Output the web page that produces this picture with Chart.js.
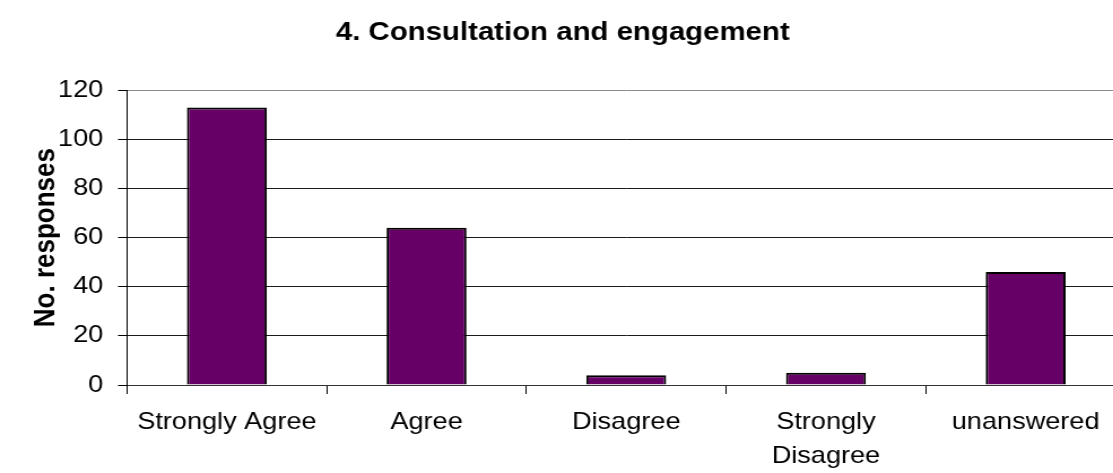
<!DOCTYPE html>
<html>
<head>
<meta charset="utf-8">
<script src="https://cdn.jsdelivr.net/npm/chart.js@4/dist/chart.umd.min.js"></script>
<style>
  html, body { margin: 0; padding: 0; background: #fff; overflow: hidden; width: 1113px; height: 473px; }
  #wrap { width: 1000px; height: 473px; transform: scaleX(1.13); transform-origin: 0 0; }
  canvas { display: block; }
</style>
</head>
<body>
<div id="wrap"><canvas id="c" width="1000" height="473"></canvas></div>
<script>
// Survey question 4: responses per answer option
const categories = ['Strongly Agree', 'Agree', 'Disagree', ['Strongly', 'Disagree'], 'unanswered'];
const responses = [113, 64, 4, 5, 46];
const yTicks = [0, 20, 40, 60, 80, 100, 120];

const FONT = "'Liberation Sans', Arial, sans-serif";

new Chart(document.getElementById('c'), {
  type: 'bar',
  data: {
    labels: categories,
    datasets: [{
      data: responses,
      backgroundColor: '#660066',
      borderColor: '#000000',
      borderWidth: 2,
      barPercentage: 0.4,
      categoryPercentage: 1.0
    }]
  },
  options: {
    responsive: false,
    animation: false,
    devicePixelRatio: 1,
    layout: { padding: { left: 0, right: 4, top: 0, bottom: 0 } },
    plugins: {
      legend: { display: false },
      tooltip: { enabled: false },
      title: {
        display: true,
        text: '4. Consultation and engagement',
        color: '#000',
        font: { family: FONT, size: 26, weight: 'bold', lineHeight: 1.2 },
        padding: { top: 17, bottom: 42 }
      }
    },
    scales: {
      x: {
        grid: {
          display: true,
          drawOnChartArea: false,
          drawTicks: true,
          tickLength: 9,
          tickColor: '#000',
          offset: true
        },
        border: { display: true, color: '#333', width: 1 },
        ticks: {
          color: '#000',
          font: { family: FONT, size: 24, lineHeight: 1.4 },
          padding: 12,
          maxRotation: 0,
          autoSkip: false
        },
        afterFit: (scale) => {
          scale.height = 88;
          scale.paddingLeft = 0;
          scale.paddingRight = 0;
        }
      },
      y: {
        min: 0,
        max: 120,
        afterBuildTicks: (scale) => {
          scale.ticks = yTicks.map(v => ({ value: v }));
        },
        grid: {
          color: (ctx) => (ctx.tick && ctx.tick.value === 120 ? '#8c8c8c' : '#1a1a1a'),
          lineWidth: 1,
          drawTicks: true,
          tickLength: 8,
          tickColor: '#000'
        },
        border: { display: true, color: '#000', width: 1 },
        ticks: {
          color: '#000',
          font: { family: FONT, size: 24 },
          padding: 13
        },
        title: {
          display: true,
          text: 'No. responses',
          color: '#000',
          font: { family: FONT, size: 26, weight: 'bold', lineHeight: 1.2 },
          padding: { top: 25, bottom: 0 }
        },
        afterFit: (scale) => {
          scale.width = 112.4;
          scale.paddingTop = 0;
          scale.paddingBottom = 0;
        }
      }
    }
  }
});
</script>
</body>
</html>
